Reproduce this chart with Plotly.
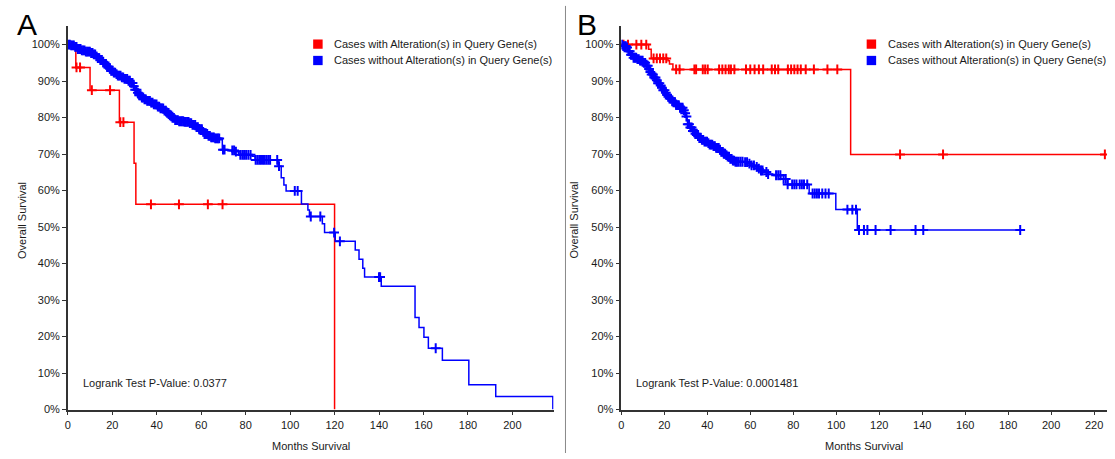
import plotly.graph_objects as go

W, H = 1115, 459

# ---------------- Panel A data ----------------
a_red_time = [0, 3.6, 10, 23.2, 29.8, 30.6, 120]
a_red_surv = [100, 93.75, 87.5, 78.75, 67.5, 56.25, 0]
a_red_cens = [3.9, 5.5, 10.8, 19, 23.6, 25, 37.4, 50, 63, 69.6]

a_blue_time = [0, 1.5, 3, 4.5, 6, 8, 10, 11.5, 12.5, 13.5, 14.5, 15.5, 16.5, 17.5, 18.5,
               19.5, 20.5, 21.5, 22.5, 24, 25.5, 27, 28.3, 29.2, 30, 31, 32, 33, 34.2,
               35.5, 37, 38.5, 40, 41.5, 43, 44.5, 45.8, 47, 48.3, 50, 52, 54.7, 56,
               57.5, 59, 60.5, 61.5, 62.8, 64.5, 66, 68.6, 69.5, 72, 75.4, 76.9, 82.9,
               84.2, 94.6, 96, 97.2, 98.2, 105.1, 108, 108.7, 114.5, 115.5, 120.3,
               129.3, 131, 132.7, 133.5, 141, 156.2, 158, 160.2, 162.2, 168.5, 180.4,
               192.5, 218.2]
a_blue_surv = [100, 99.8, 99.4, 98.8, 98.4, 98.1, 97.7, 97.3, 96.8, 96.3, 95.8, 95.3,
               94.7, 94.0, 93.4, 92.8, 92.3, 91.9, 91.5, 91.0, 90.6, 90.1, 89.5, 88.6,
               87.6, 86.8, 86.1, 85.5, 85.0, 84.6, 84.1, 83.6, 83.0, 82.5, 81.9, 81.3,
               80.6, 79.9, 79.3, 79.0, 78.8, 78.5, 78.0, 77.4, 76.8, 76.1, 75.5, 75.0,
               74.6, 74.3, 73.9, 71.2, 71.0, 70.7, 69.8, 69.4, 68.4, 66.7, 63.5, 61.5,
               59.9, 56.3, 54.7, 52.9, 50.9, 48.5, 46.1, 43.7, 41.2, 38.7, 36.3, 33.8,
               25.2, 22.5, 19.8, 16.8, 13.5, 6.8, 3.6, 0]
a_blue_cens = [0.3, 0.9, 1.5, 2.1, 2.7, 3.3, 3.9, 4.5, 5.1, 5.7, 6.3, 6.9, 7.5, 8.1,
               8.7, 9.3, 9.9, 10.5, 11.1, 11.7, 12.3, 12.9, 13.5, 14.1, 14.7, 15.3,
               15.9, 16.5, 17.1, 17.7, 18.3, 18.9, 19.5, 20.1, 20.7, 21.3, 21.9, 22.5,
               23.1, 23.7, 24.3, 24.9, 25.5, 26.1, 26.7, 27.3, 27.9, 28.5, 29.1, 29.7,
               30.3, 30.9, 31.5, 32.1, 32.7, 33.3, 33.9, 34.5, 35.1, 35.7, 36.3, 36.9,
               37.5, 38.1, 38.7, 39.3, 39.9, 40.5, 41.1, 41.7, 42.3, 42.9, 43.5, 44.1,
               44.7, 45.3, 45.9, 46.5, 47.1, 47.7, 48.3, 48.9, 49.5, 50.1, 50.7, 51.3,
               51.9, 52.5, 53.1, 53.7, 54.3, 54.9, 55.5, 56.1, 56.7, 57.3, 57.9, 58.5,
               59.1, 59.7, 60.3, 60.9, 61.5, 62.1, 62.7, 63.3, 63.9, 64.5, 65.1, 65.7,
               66.3, 66.9, 67.5, 68.1, 69.8, 70.5, 74, 74.8, 75.6, 77.6, 78.5, 79.3,
               80.2, 81.2, 82.2, 84.5, 85.3, 86.1, 86.9, 87.8, 88.6, 89.4, 90.2, 91,
               94.2, 95, 102.1, 103.4, 109.3, 113.6, 119.8, 122.4, 140, 140.5, 165.5]

# ---------------- Panel B data ----------------
b_red_time = [0, 12.7, 13.9, 21.7, 22.4, 24, 106.7, 225]
b_red_surv = [100, 98.7, 96.2, 95.6, 94.7, 93.2, 69.9, 69.9]
b_red_cens = [1, 3.1, 7, 9.3, 11.6, 15, 16.5, 18, 19.5, 20.9, 25.5, 27.1, 34, 34.8,
              37.9, 39, 40.2, 45.5, 47, 48.5, 50, 51, 52.6, 58, 60, 62, 64, 66, 70,
              71.5, 73, 77.5, 79, 80.5, 82, 83.5, 85.8, 89.6, 95.9, 100.5, 129.7,
              149.7, 225]

b_blue_time = [0, 0.8, 2.3, 3.3, 4.2, 5.4, 7, 8.5, 10, 11.6, 12.4, 13.1, 14, 15, 16.2,
               17, 17.8, 18.6, 19.3, 20.2, 21, 21.7, 22.4, 23.2, 24, 25.5, 27, 28.6,
               29.5, 30.2, 30.6, 30.9, 32, 33.3, 34.5, 35.5, 36.3, 37.5, 38.7, 40, 41,
               42.5, 44, 45.6, 46.5, 47.5, 48.5, 49.5, 50.3, 51.5, 52.6, 56.5, 58.8,
               60.5, 61.9, 63.2, 64.5, 66.5, 68, 71, 74.2, 77.4, 87.4, 99.8, 109.8,
               185.6]
b_blue_surv = [100, 99.6, 99.2, 98.2, 97.2, 96.4, 96.0, 95.6, 95.0, 94.2, 93.3, 92.5,
               91.8, 91.0, 90.2, 89.4, 88.8, 88.2, 87.5, 86.8, 86.2, 85.7, 85.2, 84.7,
               84.2, 83.4, 82.7, 82.0, 81.2, 80.3, 79.2, 78.2, 77.3, 76.3, 75.6, 74.9,
               74.4, 73.9, 73.4, 73.0, 72.6, 72.2, 71.7, 71.2, 70.6, 70.1, 69.7, 69.3,
               68.7, 68.2, 67.9, 67.8, 67.4, 66.9, 66.5, 66.0, 65.5, 65.1, 64.5, 64.2,
               63.2, 61.7, 59.2, 54.8, 49.2, 49.2]
b_blue_cens = [0.3, 0.9, 1.5, 2.1, 2.7, 3.3, 3.9, 4.5, 5.1, 5.7, 6.3, 6.9, 7.5, 8.1,
               8.7, 9.3, 9.9, 10.5, 11.1, 11.7, 12.3, 12.9, 13.5, 14.1, 14.7, 15.3,
               15.9, 16.5, 17.1, 17.7, 18.3, 18.9, 19.5, 20.1, 20.7, 21.3, 21.9, 22.5,
               23.1, 23.7, 24.3, 24.9, 25.5, 26.1, 26.7, 27.3, 27.9, 28.5, 29.1, 29.7,
               30.3, 30.9, 31.5, 32.1, 32.7, 33.3, 33.9, 34.5, 35.1, 35.7, 36.3, 36.9,
               37.5, 38.1, 38.7, 39.3, 39.9, 40.5, 41.1, 41.7, 42.3, 42.9, 43.5, 44.1,
               44.7, 45.3, 45.9, 46.5, 47.1, 47.7, 48.3, 48.9, 49.5, 50.1, 50.7, 51.3,
               51.9, 52.5, 53.1, 53.8, 54.6, 55.5, 56.4, 57.6, 58.5, 59.6, 60.6, 61.7,
               63, 64, 65, 65.7, 67.5, 68.3, 72, 73, 74, 75.5, 76.5, 77.4, 79.5, 80.5,
               81.5, 83, 84, 85, 86.5, 89, 90, 91, 92, 93.5, 95, 96.5, 105.2, 107.5,
               109.2, 110.6, 112.9, 114.5, 118.3, 125.3, 136.9, 140.5, 185.6]

x_ticks_a = [0, 20, 40, 60, 80, 100, 120, 140, 160, 180, 200]
x_ticks_b = [0, 20, 40, 60, 80, 100, 120, 140, 160, 180, 200, 220]
y_ticks = [0, 10, 20, 30, 40, 50, 60, 70, 80, 90, 100]
y_tick_labels = ["0%", "10%", "20%", "30%", "40%", "50%", "60%", "70%", "80%", "90%", "100%"]

legend_labels = ["Cases with Alteration(s) in Query Gene(s)",
                 "Cases without Alteration(s) in Query Gene(s)"]
pvalues = ["0.0377", "0.0001481"]

RED = "#ff0000"
BLUE = "#0000ff"
FONT = "Liberation Sans, Arial, Helvetica, sans-serif"
TXT = "#1a1a1a"


def km_at(times, surv, t):
    s = surv[0]
    for ti, si in zip(times, surv):
        if ti <= t:
            s = si
        else:
            break
    return s


def px(x):
    return x / W


def py(y):
    return 1 - y / H


fig = go.Figure()


def add_curve(times, surv, cens, color, xa, ya):
    fig.add_trace(go.Scatter(x=times, y=surv, mode="lines", line=dict(color=color, width=1.5, shape="hv"),
                             xaxis=xa, yaxis=ya, showlegend=False, hoverinfo="skip"))
    fig.add_trace(go.Scatter(x=cens, y=[km_at(times, surv, t) for t in cens], mode="markers",
                             marker=dict(symbol="cross-thin", size=7, color=color,
                                         line=dict(color=color, width=2)),
                             xaxis=xa, yaxis=ya, showlegend=False, hoverinfo="skip"))


add_curve(a_red_time, a_red_surv, a_red_cens, RED, "x", "y")
add_curve(a_blue_time, a_blue_surv, a_blue_cens, BLUE, "x", "y")
add_curve(b_red_time, b_red_surv, b_red_cens, RED, "x2", "y2")
add_curve(b_blue_time, b_blue_surv, b_blue_cens, BLUE, "x2", "y2")

axis_common = dict(showline=True, linecolor="#333333", linewidth=1.5, ticks="outside",
                   ticklen=4, tickwidth=1, tickcolor="#333333", showgrid=False,
                   zeroline=False, tickfont=dict(family=FONT, size=11, color=TXT),
                   fixedrange=True)
ydom = [py(415), py(26.7)]

fig.update_layout(
    width=W, height=H,
    margin=dict(l=0, r=0, t=0, b=0),
    paper_bgcolor="white", plot_bgcolor="white",
    font=dict(family=FONT, size=11, color=TXT),
    xaxis=dict(domain=[px(65), px(552)], range=[0, 218.5], tickvals=x_ticks_a,
               anchor="y", **axis_common),
    yaxis=dict(domain=ydom, range=[0, 105], tickvals=y_ticks, ticktext=y_tick_labels,
               anchor="x", **axis_common),
    xaxis2=dict(domain=[px(620), px(1107)], range=[0, 226], tickvals=x_ticks_b,
                anchor="y2", **axis_common),
    yaxis2=dict(domain=ydom, range=[0, 105], tickvals=y_ticks, ticktext=y_tick_labels,
                anchor="x2", **axis_common),
    showlegend=False,
)

annotations = []
shapes = []

panels = [
    ("A", 24, 19, 308.5, 78, 311, 330, pvalues[0]),
    ("B", 586, 573, 863.5, 633, 866, 885, pvalues[1]),
]
for lab, lx, ytx, cx, lgx, sqx, ltx, pv in panels:
    annotations.append(dict(text=lab, x=px(lx), y=py(25), xref="paper", yref="paper",
                            xanchor="center", yanchor="middle", showarrow=False,
                            font=dict(family=FONT, size=30, color="#000000")))
    annotations.append(dict(text="Overall Survival", x=px(ytx), y=py(223), xref="paper",
                            yref="paper", xanchor="center", yanchor="middle", textangle=-90,
                            showarrow=False, font=dict(family=FONT, size=11, color=TXT)))
    annotations.append(dict(text="Months Survival", x=px(cx), y=py(452), xref="paper",
                            yref="paper", xanchor="center", yanchor="middle",
                            showarrow=False, font=dict(family=FONT, size=11, color=TXT)))
    annotations.append(dict(text="Logrank Test P-Value: " + pv, x=px(lgx), y=py(388),
                            xref="paper", yref="paper", xanchor="left", yanchor="middle",
                            showarrow=False, font=dict(family=FONT, size=11, color=TXT)))
    for i, (lbl, col) in enumerate(zip(legend_labels, [RED, BLUE])):
        yc = 44.7 + i * 16.6
        shapes.append(dict(type="rect", xref="paper", yref="paper", x0=px(sqx),
                           x1=px(sqx + 9.5), y0=py(yc + 4.7), y1=py(yc - 4.7),
                           fillcolor=col, line=dict(width=0)))
        annotations.append(dict(text=lbl, x=px(ltx), y=py(yc), xref="paper", yref="paper",
                                xanchor="left", yanchor="middle", showarrow=False,
                                font=dict(family=FONT, size=11, color=TXT)))

shapes.append(dict(type="line", xref="paper", yref="paper", x0=px(564), x1=px(564),
                   y0=py(6), y1=py(459), line=dict(color="#888888", width=1)))

fig.update_layout(annotations=annotations, shapes=shapes)

fig.write_html("out.html")
